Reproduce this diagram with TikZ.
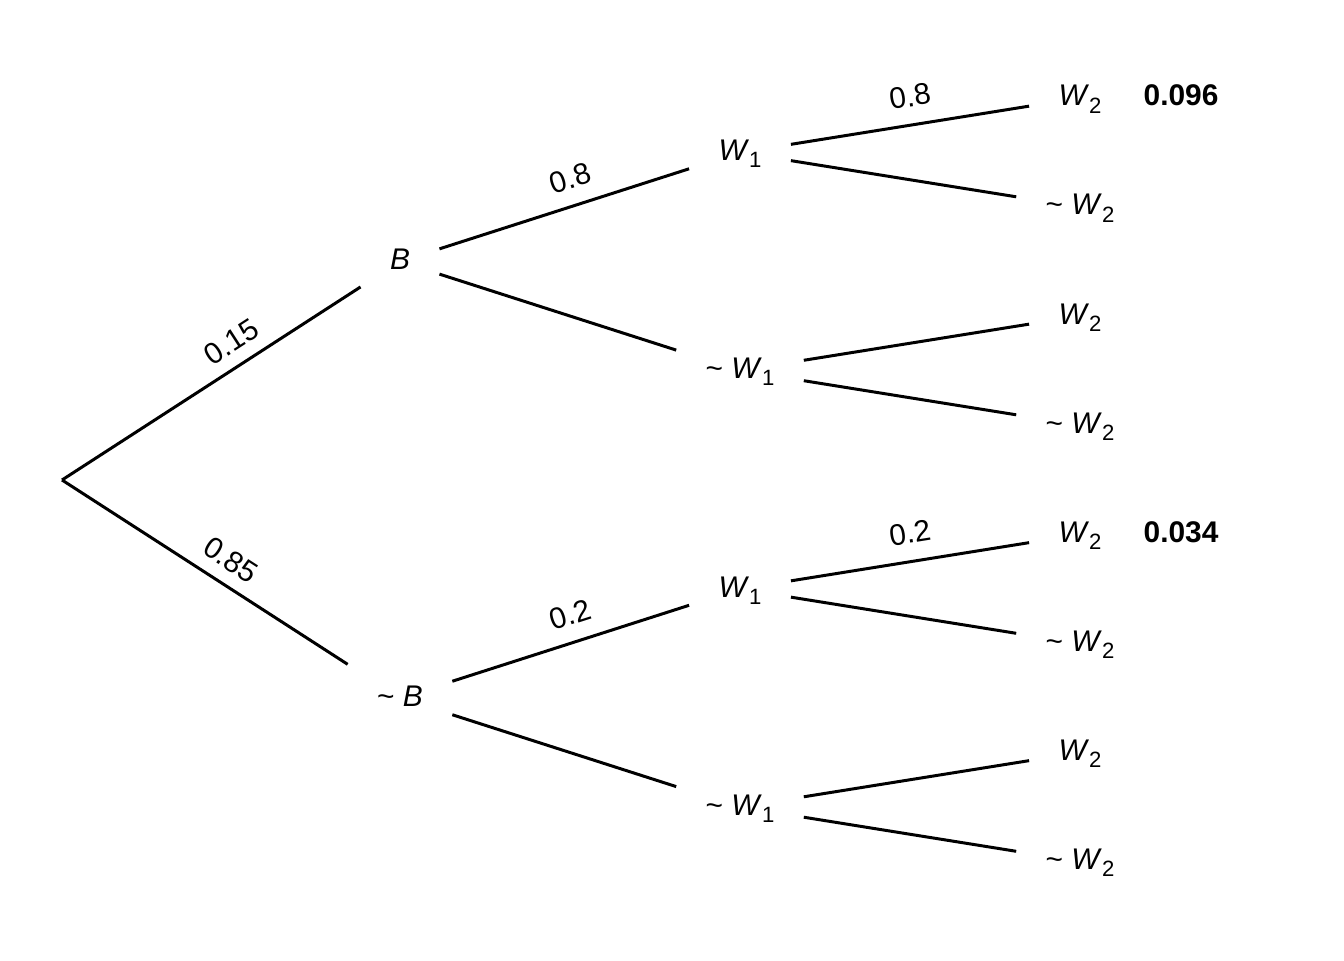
\documentclass[tikz,border=0pt]{standalone}
\usepackage{fontspec}
\setmainfont{Liberation Sans}
\usetikzlibrary{positioning}
\newcommand{\lowidx}[1]{\raisebox{-.24em}{\fontsize{12.6}{14}\selectfont #1}}
\newcommand{\nt}{\textasciitilde\ }

\begin{document}
\begin{tikzpicture}[line width=1.7pt,on grid,font=\fontsize{17}{20}\selectfont,
        ev/.style={inner xsep=.56cm,inner ysep=0pt,text height=.5cm,text depth=.18cm,minimum height=1.6cm},
        res/.style={font=\fontsize{17}{20}\selectfont\bfseries,text height=.5cm,text depth=.18cm},
        lab/.style={sloped,inner sep=0pt}]
      \useasboundingbox (0,0) rectangle (26.88,-19.2);
      \coordinate (r) at (1.24,-9.6);
      % first draw
      \node[ev] (b) at (8,-5.23) {\textit{B}};
      \node[ev] (nb) at (8,-13.96) {\nt\textit{B}};
      % second draw
      \node[ev] (bw) [above right=2.18cm and 6.8cm of b] {\textit{W}\lowidx{1}};
      \node[ev] (bnw) [below right=2.18cm and 6.8cm of b] {\nt\textit{W}\lowidx{1}};
      \node[ev] (nbw) [above right=2.18cm and 6.8cm of nb] {\textit{W}\lowidx{1}};
      \node[ev] (nbnw) [below right=2.18cm and 6.8cm of nb] {\nt\textit{W}\lowidx{1}};
      % third draw
      \node[ev] (bww) [above right=1.09cm and 6.8cm of bw] {\textit{W}\lowidx{2}};
      \node[ev] (bwnw) [below right=1.09cm and 6.8cm of bw] {\nt\textit{W}\lowidx{2}};
      \node[ev] (bnww) [above right=1.09cm and 6.8cm of bnw] {\textit{W}\lowidx{2}};
      \node[ev] (bnwnw) [below right=1.09cm and 6.8cm of bnw] {\nt\textit{W}\lowidx{2}};
      \node[ev] (nbww) [above right=1.09cm and 6.8cm of nbw] {\textit{W}\lowidx{2}};
      \node[ev] (nbwnw) [below right=1.09cm and 6.8cm of nbw] {\nt\textit{W}\lowidx{2}};
      \node[ev] (nbnww) [above right=1.09cm and 6.8cm of nbnw] {\textit{W}\lowidx{2}};
      \node[ev] (nbnwnw) [below right=1.09cm and 6.8cm of nbnw] {\nt\textit{W}\lowidx{2}};
      \node[res] (pa) [right=2.02cm of bww] {0.096};
      \node[res] (pb) [right=2.02cm of nbww] {0.034};
      \path (r) edge (b)
      edge (nb)
      (b) edge (bw)
      edge (bnw)
      (nb) edge (nbw)
      edge (nbnw)
      (bw) edge (bww)
      edge (bwnw)
      (bnw) edge (bnww)
      edge (bnwnw)
      (nbw) edge (nbww)
      edge (nbwnw)
      (nbnw) edge (nbnww)
      edge (nbnwnw);
      % probabilities on the branches
      \path ([yshift=.58cm]r) -- node[lab] (l1) {0.15} ([yshift=.58cm]b.center);
      \path ([yshift=.58cm]r) -- node[lab] (l2) {0.85} ([yshift=.58cm]nb.center);
      \path ([yshift=.58cm]b.center) -- node[lab] (l3) {0.8} ([yshift=.58cm]bw.center);
      \path ([yshift=.58cm]nb.center) -- node[lab] (l4) {0.2} ([yshift=.58cm]nbw.center);
      \path ([yshift=.58cm]bw.center) -- node[lab] (l5) {0.8} ([yshift=.58cm]bww.center);
      \path ([yshift=.58cm]nbw.center) -- node[lab] (l6) {0.2} ([yshift=.58cm]nbww.center);
    \end{tikzpicture}
\end{document}
